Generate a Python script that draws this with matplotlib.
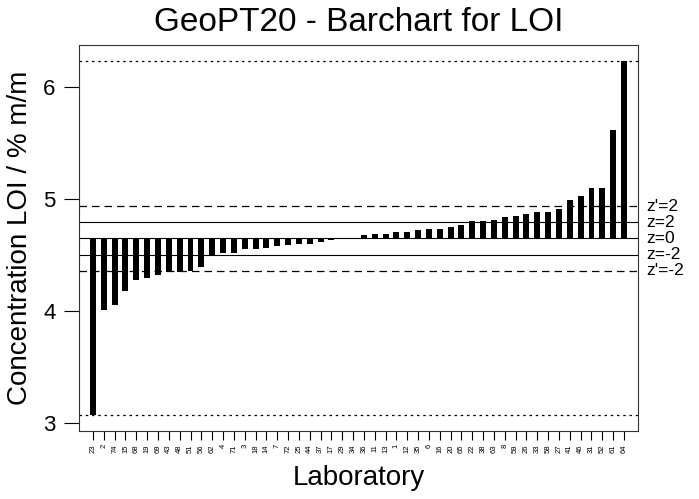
import numpy as np
import matplotlib
matplotlib.use("Agg")
import matplotlib.pyplot as plt
import matplotlib.transforms as mtransforms

plt.rcParams['font.family'] = ['Liberation Sans', 'DejaVu Sans']

# Laboratory codes, sorted by reported value
labs = ["23", "2", "74", "15", "68", "19", "69", "43", "48", "51",
        "56", "62", "4", "71", "3", "18", "14", "7", "72", "25",
        "44", "37", "17", "29", "34", "36", "11", "13", "1", "12",
        "35", "6", "16", "20", "65", "22", "38", "63", "8", "59",
        "26", "33", "58", "27", "41", "46", "31", "52", "61", "64"]

# LOI values, % m/m
loi = [3.07, 4.01, 4.05, 4.18, 4.28, 4.295, 4.32, 4.35, 4.35, 4.36,
       4.39, 4.50, 4.52, 4.52, 4.55, 4.55, 4.565, 4.58, 4.59, 4.60,
       4.60, 4.616, 4.63, 4.64, 4.645, 4.676, 4.69, 4.69, 4.705, 4.705,
       4.723, 4.73, 4.735, 4.747, 4.765, 4.80, 4.80, 4.815, 4.836, 4.845,
       4.87, 4.88, 4.88, 4.91, 4.99, 5.03, 5.10, 5.10, 5.616, 6.23]

# assigned value and target deviations
assigned = 4.649
z_lines = {"z'=2": 4.94, "z=2": 4.798, "z=0": 4.649, "z=-2": 4.50, "z'=-2": 4.357}

fig = plt.figure(figsize=(6.99, 4.99), dpi=100)
ax = fig.add_axes([0.113, 0.1363, 0.7997, 0.7741])

x = np.arange(len(labs))
vals = np.array(loi)
ax.bar(x, vals - assigned, bottom=assigned, width=0.55, color='black')

# reference lines
ax.axhline(z_lines["z'=2"], color='black', lw=0.9, linestyle=(0, (6, 4)))
ax.axhline(z_lines["z'=-2"], color='black', lw=0.9, linestyle=(0, (6, 4)))
for k in ["z=2", "z=0", "z=-2"]:
    ax.axhline(z_lines[k], color='black', lw=0.8)
ax.axhline(vals.max(), color='black', lw=0.9, linestyle=(0, (2, 3)))
ax.axhline(vals.min(), color='black', lw=0.9, linestyle=(0, (2, 3)))

# labels on the right of the plot
trans = mtransforms.blended_transform_factory(ax.transAxes, ax.transData)
label_y = {"z'=2": 4.935, "z=2": 4.795, "z=0": 4.65, "z=-2": 4.505, "z'=-2": 4.365}
for k, yv in label_y.items():
    ax.text(1.015, yv, k, transform=trans, fontsize=12.5, va='center', ha='left', clip_on=False)

ax.set_xlim(-1.29, len(labs) - 1 + 1.29)
ax.set_ylim(2.929, 6.378)
ax.set_xticks(x)
ax.set_xticklabels(labs, rotation=90, fontsize=5.5)
ax.set_yticks([3, 4, 5, 6])
ax.tick_params(axis='y', length=11, width=0.8, labelsize=16, pad=6)
ax.tick_params(axis='x', length=6.5, width=0.8, pad=3)
for s in ax.spines.values():
    s.set_linewidth(0.8)
    s.set_color('#333333')

ax.set_title("GeoPT20 - Barchart for LOI", fontsize=24, pad=10)
ax.set_xlabel("Laboratory", fontsize=20, labelpad=9)
ax.set_ylabel("Concentration LOI / % m/m", fontsize=20, labelpad=7)

fig.savefig("out.png", dpi=100)
